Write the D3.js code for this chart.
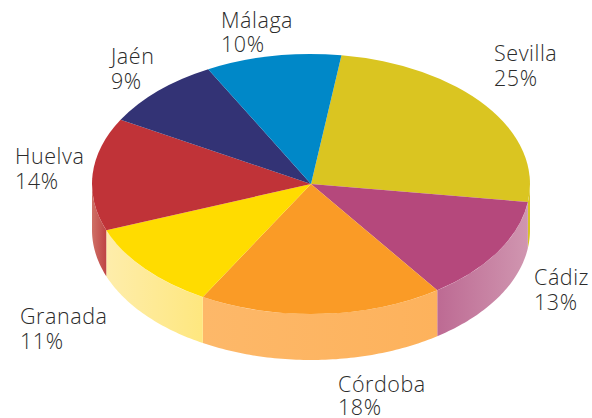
<!DOCTYPE html>
<html><head><meta charset="utf-8">
<script src="https://cdn.jsdelivr.net/npm/d3@7"></script>
<style>html,body{margin:0;padding:0;background:#fff}svg{display:block}
text{font-family:"Open Sans",sans-serif;font-size:21.5px;font-weight:300;letter-spacing:.55px;fill:#2b2b2b}</style>
</head><body><svg id="c" width="592" height="418"></svg>
<script>
const categories=["Sevilla","Cádiz","Córdoba","Granada","Huelva","Jaén","Málaga"];
const percents=[25,13,18,11,14,9,10];
const topColors=["#dac521","#b5487c","#fa9b26","#ffdc00","#c03338","#333375","#0088c8"];
const wallFrom=["#d8c322","#bd6a93","#fdb869","#feedab","#cf7066","#333375","#0088c8"];
const wallTo=["#d8c322","#d096b0","#fdb25c","#fee77f","#bf4444","#333375","#0088c8"];
const labelX=[494,534,338,20,15,111,221];
const labelY=[61,285,392,324,164,64,28];
const labelGap=[25,25,23,25,25,25,24];

const W=592,H=418,cx=311,cy=184,rx=219,ry=130,depth=46,startDeg=8;
const svg=d3.select("#c");
const sx=d3.scaleLinear().domain([-1,1]).range([cx-rx,cx+rx]);
const sy=d3.scaleLinear().domain([-1,1]).range([cy-ry,cy+ry]);
const a0=startDeg*Math.PI/180;
const pie=d3.pie().sort(null).startAngle(a0).endAngle(a0+2*Math.PI);
const arcs=pie(percents);
const defs=svg.append("defs");
const line=d3.line();

const wall=arcs.map((d,i)=>{
  const a=Math.max(d.startAngle,Math.PI/2),b=Math.min(d.endAngle,3*Math.PI/2);
  if(b<=a)return null;
  const n=Math.max(2,Math.ceil((b-a)*60));
  const ang=d3.range(n+1).map(k=>a+(b-a)*k/n);
  const upper=ang.map(t=>[sx(Math.sin(t)),sy(-Math.cos(t))]);
  const lower=upper.map(p=>[p[0],p[1]+depth]).reverse();
  const xs=upper.map(p=>p[0]);
  return {i,path:line(upper.concat(lower))+"Z",x1:d3.min(xs),x2:d3.max(xs)};
}).filter(Boolean);

wall.forEach(w=>{
  const g=defs.append("linearGradient").attr("id","w"+w.i).attr("gradientUnits","userSpaceOnUse")
    .attr("x1",w.x1).attr("x2",w.x2).attr("y1",0).attr("y2",0);
  g.append("stop").attr("offset",0).attr("stop-color",wallFrom[w.i]);
  g.append("stop").attr("offset",1).attr("stop-color",wallTo[w.i]);
});
svg.append("g").selectAll("path").data(wall).join("path")
  .attr("d",w=>w.path).attr("fill",w=>`url(#w${w.i})`);

const arc=d3.arc().innerRadius(0).outerRadius(rx);
svg.append("g").attr("transform",`translate(${cx},${cy}) scale(1,${ry/rx})`)
  .selectAll("path").data(arcs).join("path")
  .attr("d",arc).attr("fill",(d,i)=>topColors[i]);

const lab=svg.append("g").selectAll("g").data(categories).join("g");
lab.append("text").attr("x",(d,i)=>labelX[i]).attr("y",(d,i)=>labelY[i]).text(d=>d);
lab.append("text").attr("x",(d,i)=>labelX[i]).attr("y",(d,i)=>labelY[i]+labelGap[i]).text((d,i)=>percents[i]+"%");
</script></body></html>
